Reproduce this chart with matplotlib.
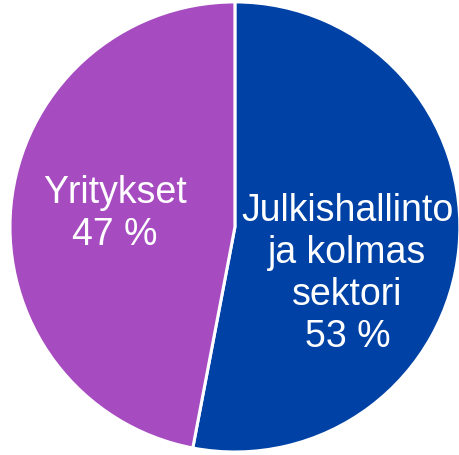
import matplotlib.pyplot as plt

labels = ["Julkishallinto\nja kolmas\nsektori", "Yritykset"]
shares = [53, 47]
colors = ["#0041A5", "#A64CC0"]

plt.rcParams["font.family"] = ["Liberation Sans", "DejaVu Sans"]

fig = plt.figure(figsize=(4.6, 4.56), dpi=100)
ax = fig.add_axes([0.0217, 0.0066, 0.978, 0.987])
ax.pie(shares, colors=colors, startangle=90, counterclock=False,
       wedgeprops=dict(edgecolor="white", linewidth=2.2))
ax.set_xlim(-1, 1)
ax.set_ylim(-1, 1)
ax.set_aspect("auto")
ax.axis("off")

# label positions in data coords (pie radius = 1)
pos = [(0.50, -0.205), (-0.535, 0.062)]
for (x, y), lab, val in zip(pos, labels, shares):
    ax.text(x, y, f"{lab}\n{val} %", ha="center", va="center",
            color="white", fontsize=27, linespacing=1.22)

fig.savefig("out.png", dpi=100)
